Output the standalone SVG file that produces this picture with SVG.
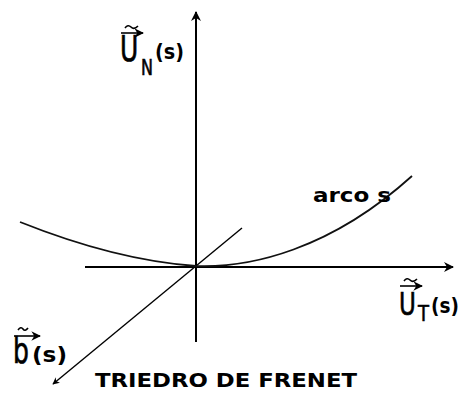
<svg xmlns="http://www.w3.org/2000/svg" width="462" height="394" viewBox="0 0 462 394">
<style>
.ax{stroke:#000;stroke-width:2;fill:none}
.dg{stroke:#000;stroke-width:1.4;fill:none}
.cv{stroke:#111;stroke-width:1.8;fill:none}
.sm{stroke:#000;stroke-width:1.6;fill:none}
.big{font-family:"DejaVu Sans",sans-serif;fill:#000;stroke:#000;stroke-width:0.5}
.lb{font-family:"DejaVu Sans","Liberation Sans",sans-serif;font-weight:bold;fill:#000}
</style>
<defs>
<marker id="ah" viewBox="0 0 10 10" refX="9" refY="5" markerWidth="5" markerHeight="5" orient="auto" markerUnits="strokeWidth">
<path d="M0,0 L10,5 L0,10 L3,5 Z" fill="#000"/>
</marker>
<marker id="ahs" viewBox="0 0 10 10" refX="9" refY="5" markerWidth="6" markerHeight="6" orient="auto" markerUnits="strokeWidth">
<path d="M0,0 L10,5 L0,10 L3,5 Z" fill="#000"/>
</marker>
</defs>
<rect width="462" height="394" fill="#fff"/>
<g id="connectors">
<line class="ax" x1="196" y1="342" x2="196" y2="12" marker-end="url(#ah)"/>
<line class="ax" x1="85" y1="267" x2="453" y2="267" marker-end="url(#ah)"/>
<line class="dg" x1="242" y1="228" x2="53" y2="384" marker-end="url(#ah)"/>
</g>
<g id="curve">
<path class="cv" d="M20,222 C80,246 140,262 196,266 C250,268 330,250 412,176"/>
<text class="lb" x="313" y="202" font-size="19" textLength="78" lengthAdjust="spacingAndGlyphs">arco s</text>
</g>
<g id="UN">
<path class="sm" d="M125,28 q3,-4 6,-1 t7,-1"/>
<line class="sm" x1="121" y1="33" x2="143" y2="33" marker-end="url(#ahs)"/>
<text class="big" transform="translate(120,61) scale(1,1.45)" font-size="25">U</text>
<text class="big" transform="translate(141,75) scale(1,1.35)" font-size="16">N</text>
<text class="lb" x="155" y="59" font-size="22" textLength="29" lengthAdjust="spacingAndGlyphs">(s)</text>
</g>
<g id="UT">
<path class="sm" d="M404,281 q3,-4 6,-1 t7,-1"/>
<line class="sm" x1="400" y1="286" x2="422" y2="286" marker-end="url(#ahs)"/>
<text class="big" transform="translate(399,315) scale(1,1.4)" font-size="23">U</text>
<text class="big" transform="translate(418,321) scale(1,1.2)" font-size="18">T</text>
<text class="lb" x="431" y="313" font-size="21" textLength="28" lengthAdjust="spacingAndGlyphs">(s)</text>
</g>
<g id="b">
<path class="sm" d="M18,330 q3,-4 5,-1 t5,-1"/>
<line class="sm" x1="14" y1="336" x2="40" y2="336" marker-end="url(#ahs)"/>
<text class="big" transform="translate(13,363) scale(1,1.4)" font-size="25">b</text>
<text class="lb" x="32" y="362" font-size="22" textLength="35" lengthAdjust="spacingAndGlyphs">(s)</text>
</g>
<g id="title">
<text class="lb" x="95" y="387" font-size="20" textLength="262" lengthAdjust="spacingAndGlyphs">TRIEDRO DE FRENET</text>
</g>
</svg>
